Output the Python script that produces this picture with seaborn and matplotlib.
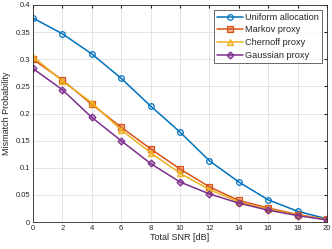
import matplotlib
matplotlib.use("Agg")
import matplotlib.pyplot as plt
import pandas as pd
import seaborn as sns

snr = [0, 2, 4, 6, 8, 10, 12, 14, 16, 18, 20]
uniform = [0.376, 0.347, 0.310, 0.265, 0.214, 0.166, 0.113, 0.074, 0.041, 0.020, 0.006]
markov = [0.300, 0.262, 0.217, 0.175, 0.135, 0.098, 0.065, 0.040, 0.026, 0.014, 0.005]
chernoff = [0.305, 0.260, 0.220, 0.170, 0.128, 0.090, 0.060, 0.037, 0.024, 0.013, 0.005]
gaussian = [0.283, 0.244, 0.193, 0.150, 0.108, 0.074, 0.052, 0.035, 0.022, 0.012, 0.004]

names = ["Uniform allocation", "Markov proxy", "Chernoff proxy", "Gaussian proxy"]
colors = ["#0072BD", "#D95319", "#EDB120", "#7E2F8E"]
markers = ["o", "s", "^", "D"]

sns.set_style("whitegrid")
plt.rcParams["font.family"] = ["Liberation Sans", "DejaVu Sans"]

fig = plt.figure(figsize=(3.32, 2.49), dpi=100)
ax = fig.add_axes([0.099, 0.108, 0.886, 0.872])

series = [uniform, markov, chernoff, gaussian]
for name, vals, col, mk in zip(names, series, colors, markers):
    df = pd.DataFrame({"snr": snr, "p": vals})
    face = "none" if mk == "o" else matplotlib.colors.to_rgba(col, 0.45)
    sns.lineplot(data=df, x="snr", y="p", ax=ax, color=col, marker=mk,
                 markersize=4 if mk != "D" else 3.5, markerfacecolor=face,
                 markeredgecolor=col, markeredgewidth=0.9, linewidth=1.1,
                 label=name)

ax.set_xlim(0, 20)
ax.set_ylim(0, 0.4)
ax.set_xticks(range(0, 21, 2))
ax.set_yticks([0, 0.05, 0.1, 0.15, 0.2, 0.25, 0.3, 0.35, 0.4])
ax.set_yticklabels(["0", "0.05", "0.1", "0.15", "0.2", "0.25", "0.3", "0.35", "0.4"])
ax.tick_params(labelsize=5.5, colors="#262626", direction="in", length=2.5,
               top=True, right=True, pad=2)
ax.grid(True, color="#e0e0e0", linewidth=0.6)
for s in ax.spines.values():
    s.set_color("#262626")
    s.set_linewidth(0.6)
ax.set_xlabel("Total SNR [dB]", fontsize=6.5, color="#262626", labelpad=1)
ax.set_ylabel("Mismatch Probability", fontsize=6.5, color="#262626", labelpad=3)

leg = ax.legend(loc="upper right", fontsize=6.6, frameon=True, fancybox=False,
                borderpad=0.35, labelspacing=0.4, handlelength=2.8,
                handletextpad=0.3, borderaxespad=0.5)
leg.get_frame().set_edgecolor("#262626")
leg.get_frame().set_linewidth(0.6)

fig.savefig("out.png", dpi=100)
